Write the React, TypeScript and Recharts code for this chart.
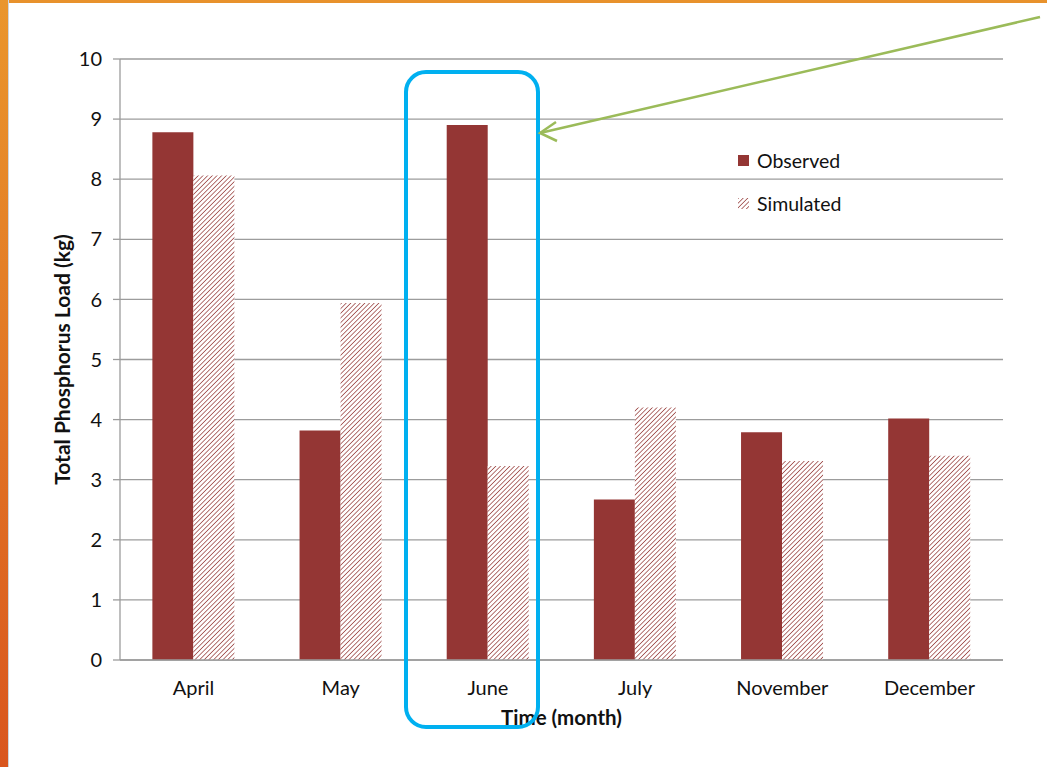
import React from "react";
import {
  BarChart,
  Bar,
  XAxis,
  YAxis,
  CartesianGrid,
  Legend,
  Label,
} from "recharts";

const months = ["April", "May", "June", "July", "November", "December"];
const observed = [8.78, 3.82, 8.9, 2.67, 3.79, 4.02];
const simulated = [8.06, 5.94, 3.23, 4.2, 3.31, 3.4];
const yTicks = [0, 1, 2, 3, 4, 5, 6, 7, 8, 9, 10];
const seriesNames = ["Observed", "Simulated"];

const RED = "#943634";
const FONT = "Lato, 'Open Sans', sans-serif";
const TEXT = "#111";

const chartData = months.map((m, i) => ({
  month: m,
  observed: observed[i],
  simulated: simulated[i],
}));

function LegendBox() {
  return (
    <div style={{ fontFamily: FONT, fontSize: 19.5, color: TEXT }}>
      {seriesNames.map((name, i) => (
        <div
          key={name}
          style={{ display: "flex", alignItems: "center", height: 43 }}
        >
          <svg width={12} height={12} style={{ marginRight: 7 }}>
            <defs>
              <pattern
                id="hatchLegend"
                patternUnits="userSpaceOnUse"
                width={3.3}
                height={3.3}
                patternTransform="rotate(45)"
              >
                <line x1={0} y1={0} x2={0} y2={3.3} stroke={RED} strokeWidth={1.4} />
              </pattern>
            </defs>
            <rect
              width={11}
              height={11}
              fill={i === 0 ? RED : "url(#hatchLegend)"}
            />
          </svg>
          <span>{name}</span>
        </div>
      ))}
    </div>
  );
}

export default function App() {
  return (
    <div
      style={{
        position: "absolute",
        left: 0,
        top: 0,
        width: 1047,
        height: 767,
        background: "#fff",
        overflow: "hidden",
      }}
    >
      {/* slide frame */}
      <div
        style={{
          position: "absolute",
          left: 0,
          top: 0,
          width: 1047,
          height: 3,
          background: "#e8922c",
        }}
      />
      <div
        style={{
          position: "absolute",
          left: 0,
          top: 0,
          width: 8,
          height: 767,
          background: "linear-gradient(#ea962c, #d9561e)",
          borderRight: "1px solid #cfd6dc",
        }}
      />

      <div style={{ position: "absolute", left: 0, top: 0 }}>
        <BarChart
          width={1047}
          height={767}
          data={chartData}
          margin={{ top: 59, right: 44, bottom: 47, left: 0 }}
          barCategoryGap="22%"
          barGap={0}
        >
          <defs>
            <pattern
              id="hatch"
              patternUnits="userSpaceOnUse"
              width={3.3}
              height={3.3}
              patternTransform="rotate(45)"
            >
              <rect width={3.3} height={3.3} fill="#fff" />
              <line x1={0} y1={0} x2={0} y2={3.3} stroke={RED} strokeWidth={1.4} />
            </pattern>
          </defs>
          <CartesianGrid vertical={false} stroke="#9c9c9c" strokeWidth={1.3} />
          <XAxis
            dataKey="month"
            height={60}
            tickLine={false}
            tickSize={0}
            tickMargin={21}
            axisLine={{ stroke: "#9c9c9c", strokeWidth: 1.3 }}
            tick={{ fill: TEXT, fontSize: 20, fontFamily: FONT }}
          >
            <Label
              content={({ viewBox }: any) => (
                <text
                  x={viewBox.x + viewBox.width / 2}
                  y={viewBox.y + 65}
                  textAnchor="middle"
                  fontFamily={FONT}
                  fontSize={20.5}
                  fontWeight="bold"
                  fill={TEXT}
                >
                  Time (month)
                </text>
              )}
            />
          </XAxis>
          <XAxis
            xAxisId="top"
            dataKey="month"
            orientation="top"
            height={0}
            tick={false}
            tickLine={false}
            axisLine={{ stroke: "#000", strokeWidth: 1.3 }}
          />
          <YAxis
            width={120}
            domain={[0, 10]}
            ticks={yTicks}
            interval={0}
            tickSize={7}
            tickMargin={11}
            tickLine={{ stroke: "#9c9c9c", strokeWidth: 1.3 }}
            axisLine={{ stroke: "#9c9c9c", strokeWidth: 1.3 }}
            tick={{ fill: TEXT, fontSize: 20, fontFamily: FONT }}
          >
            <Label
              content={({ viewBox }: any) => {
                const cx = viewBox.x + 61;
                const cy = viewBox.y + viewBox.height / 2;
                return (
                  <text
                    x={cx}
                    y={cy}
                    textAnchor="middle"
                    dominantBaseline="central"
                    transform={`rotate(-90 ${cx} ${cy})`}
                    fontFamily={FONT}
                    fontSize={21}
                    fontWeight="bold"
                    fill={TEXT}
                  >
                    Total Phosphorus Load (kg)
                  </text>
                );
              }}
            />
          </YAxis>
          <YAxis
            yAxisId="right"
            orientation="right"
            width={0}
            domain={[0, 10]}
            tick={false}
            tickLine={false}
            axisLine={{ stroke: "#000", strokeWidth: 1.3 }}
          />
          <Legend
            layout="vertical"
            align="center"
            verticalAlign="middle"
            wrapperStyle={{ left: 738, top: 139, width: 160 }}
            content={() => <LegendBox />}
          />
          <Bar
            dataKey="observed"
            name={seriesNames[0]}
            fill={RED}
            isAnimationActive={false}
          />
          <Bar
            dataKey="simulated"
            name={seriesNames[1]}
            fill="url(#hatch)"
            isAnimationActive={false}
          />
        </BarChart>
      </div>

      {/* callout annotations */}
      <svg
        width={1047}
        height={767}
        style={{ position: "absolute", left: 0, top: 0, pointerEvents: "none" }}
      >
        <rect
          x={406}
          y={72}
          width={132}
          height={655}
          rx={20}
          ry={20}
          fill="none"
          stroke="#00b0f0"
          strokeWidth={4}
        />
        <line x1={1040} y1={17} x2={540} y2={133} stroke="#9bbb59" strokeWidth={2.5} />
        <polyline
          points="556,122 540,133 557,141"
          fill="none"
          stroke="#9bbb59"
          strokeWidth={2.5}
        />
      </svg>
    </div>
  );
}
